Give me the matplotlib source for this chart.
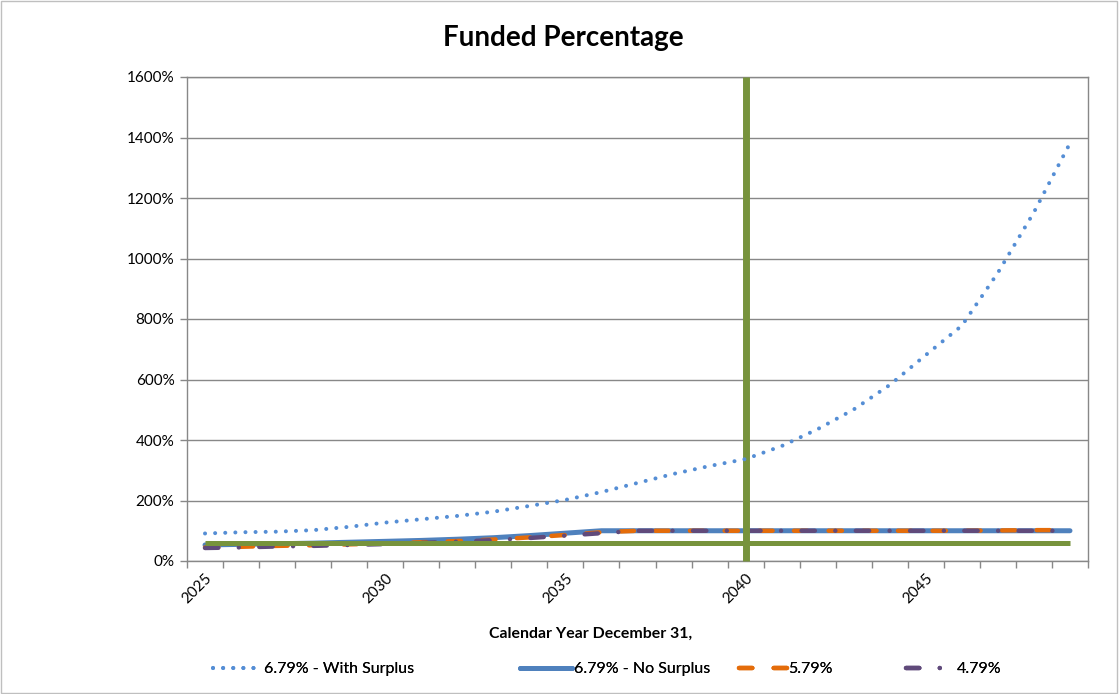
import numpy as np
import matplotlib
matplotlib.use('Agg')
import matplotlib.pyplot as plt
from matplotlib.ticker import PercentFormatter, FixedLocator
from matplotlib.patches import Rectangle

plt.rcParams['font.family'] = ['Lato', 'DejaVu Sans']

# datos (valores como fraccion, 1.0 = 100%)
years = list(range(2025, 2050))
with_surplus = [0.91, 0.95, 0.97, 1.02, 1.13, 1.27, 1.38, 1.49, 1.63, 1.82, 2.02, 2.28, 2.58,
                2.88, 3.14, 3.37, 3.80, 4.36, 5.01, 5.82, 6.81, 7.78, 9.53, 11.53, 13.81]
no_surplus = [0.53, 0.55, 0.57, 0.59, 0.62, 0.65, 0.68, 0.72, 0.77, 0.84, 0.92, 1.00, 1.00,
              1.00, 1.00, 1.00, 1.00, 1.00, 1.00, 1.00, 1.00, 1.00, 1.00, 1.00, 1.00]
r579 = [0.45, 0.47, 0.50, 0.52, 0.55, 0.58, 0.62, 0.66, 0.71, 0.78, 0.86, 0.95, 1.00,
        1.00, 1.00, 1.00, 1.00, 1.00, 1.00, 1.00, 1.00, 1.00, 1.01, 1.02, 1.02]
r479 = [0.43, 0.45, 0.48, 0.50, 0.53, 0.56, 0.60, 0.64, 0.69, 0.76, 0.84, 0.92, 1.00,
        1.00, 1.00, 1.00, 1.00, 1.00, 1.00, 1.00, 1.00, 1.00, 1.00, 1.00, 1.00]
threshold = [0.60] * len(years)
vline_x = [2040, 2040]
vline_y = [0.0, 16.0]

labels = ['6.79% - With Surplus', '6.79% - No Surplus', '5.79%', '4.79%']
c_dot = '#558ED5'
c_blue = '#4F81BD'
c_orange = '#E46C0A'
c_purple = '#604A7B'
c_green = '#77933C'

fig = plt.figure(figsize=(11.19, 6.94), dpi=100)
ax = fig.add_axes([187/1119, 1-561/694, (1088-187)/1119, (561-77)/694])

l2, = ax.plot(years, no_surplus, color=c_blue, lw=3.6, solid_capstyle='round', zorder=2)
l3, = ax.plot(years, r579, color=c_orange, lw=3.2, linestyle=(0, (3.0, 4.8)),
              dash_capstyle='round', zorder=2)
l4, = ax.plot(years, r479, color=c_purple, lw=3.2, linestyle=(0, (3.0, 4.6, 0.01, 4.6)),
              dash_capstyle='round', zorder=2)
ax.plot(years, threshold, color=c_green, lw=3.6, solid_capstyle='butt', zorder=3)
ax.plot(vline_x, vline_y, color=c_green, lw=5.0, solid_capstyle='butt', zorder=3, clip_on=False)
l1, = ax.plot(years, with_surplus, color=c_dot, lw=2.9, linestyle=(0, (0.01, 2.5)),
              dash_capstyle='round', zorder=4)

ax.set_xlim(2024.5, 2049.5)
ax.set_ylim(0, 16)
ax.yaxis.set_major_locator(FixedLocator(np.arange(0, 16.01, 2)))
ax.yaxis.set_major_formatter(PercentFormatter(xmax=1, decimals=0))
ax.grid(axis='y', color='#888888', lw=1.0, zorder=0)
ax.set_axisbelow(True)

ax.set_xticks([2025, 2030, 2035, 2040, 2045])
ax.set_xticklabels(['2025', '2030', '2035', '2040', '2045'], rotation=45, ha='right',
                   rotation_mode='anchor')
ax.set_xticks(np.arange(2024.5, 2049.6, 1), minor=True)
ax.tick_params(axis='x', which='major', length=0, pad=7, labelsize=11)
ax.tick_params(axis='x', which='minor', length=5, color='#888888', width=1)
ax.tick_params(axis='y', length=5, color='#888888', width=1, labelsize=11, pad=4)

for s in ax.spines.values():
    s.set_color('#888888')
    s.set_linewidth(1.0)

fig.text(563/1119, 1-38/694, 'Funded Percentage', ha='center', va='center',
         fontsize=20, fontweight='bold')
fig.text(591/1119, 1-634/694, 'Calendar Year December 31,', ha='center', va='center',
         fontsize=11.4, fontweight='bold')

# leyenda: cada entrada por separado como en el original
pos = [213, 520, 739, 906]
hl = [3.1, 3.25, 3.0, 3.1]
for h, lab, x0, L in zip([l1, l2, l3, l4], labels, pos, hl):
    lg = fig.legend(handles=[h], labels=[lab], loc='center left',
                    bbox_to_anchor=(x0/1119, 1-669/694), frameon=False, fontsize=11.5,
                    handlelength=L, handletextpad=0.1, borderpad=0, borderaxespad=0)
    fig.add_artist(lg)

fig.patches.append(Rectangle((0.0005, 0.001), 0.998, 0.997, transform=fig.transFigure,
                             fill=False, edgecolor='#BFBFBF', lw=1))

plt.savefig('out.png', dpi=100)
plt.close()
